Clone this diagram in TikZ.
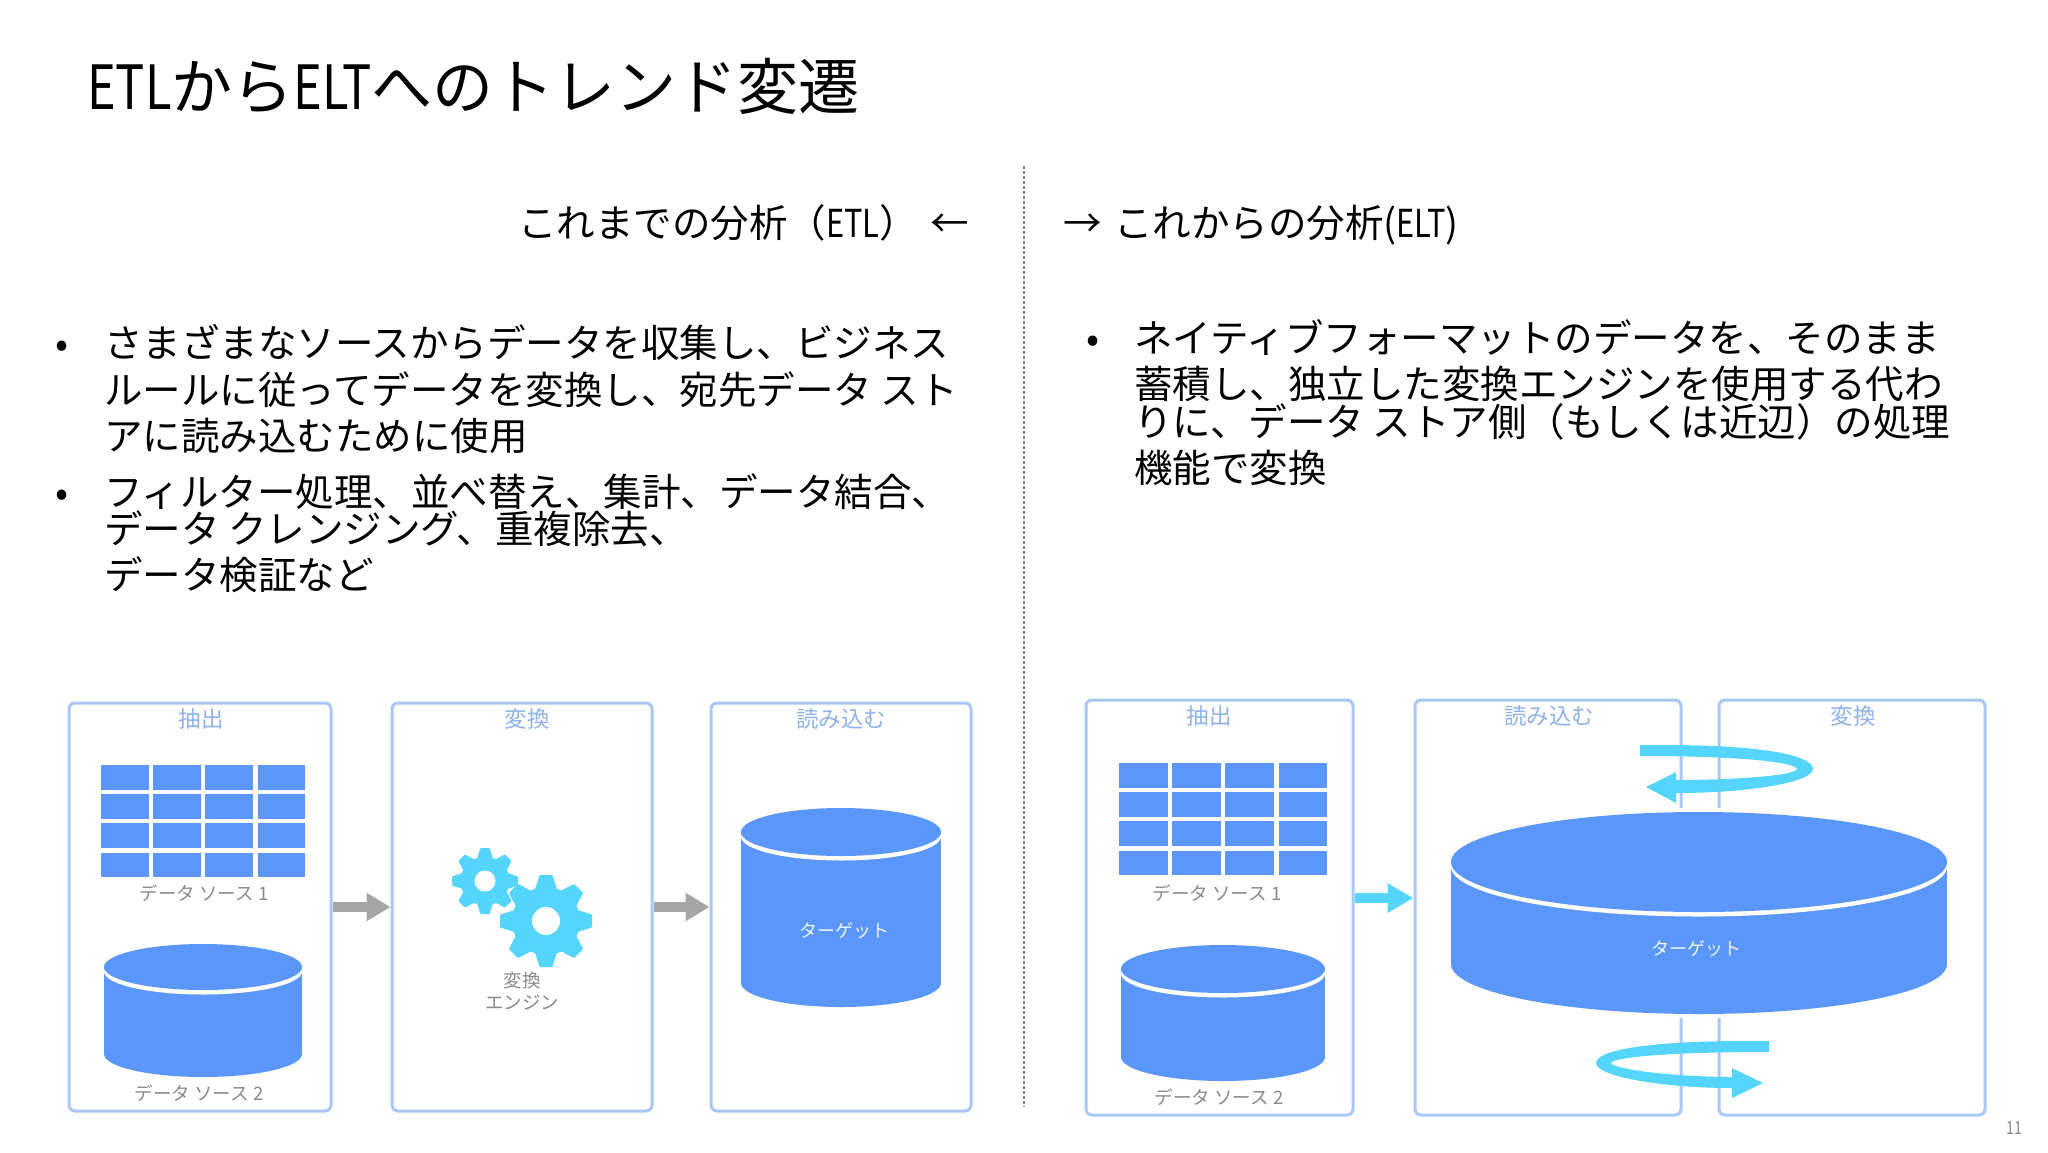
\documentclass[tikz,border=0pt]{standalone}
\usepackage{fontspec}
\usepackage{graphicx}
\setmainfont{Noto Sans CJK JP}
\usetikzlibrary{arrows.meta,calc}
\definecolor{dbblue}{HTML}{5B97FB}
\definecolor{panelline}{HTML}{A8C7F7}
\definecolor{headtext}{HTML}{8FB2EC}
\definecolor{cyanflow}{HTML}{55D5FC}
\definecolor{grayflow}{HTML}{A6A6A6}
\definecolor{labelgray}{HTML}{8A8A8A}
\newcommand\nl[1]{\scalebox{.8}[1]{#1}}
\newcommand\cylshape[5]{% cx, top centre y, bottom centre y, rx, ry
  \fill[dbblue] ({#1-#4},#2) rectangle ({#1+#4},#3);
  \fill[dbblue] (#1,#3) ellipse [x radius=#4 pt,y radius=#5 pt];
  \fill[white] (#1,{#2+4.5}) ellipse [x radius=#4 pt,y radius=#5 pt];
  \fill[dbblue] (#1,#2) ellipse [x radius=#4 pt,y radius=#5 pt];
}
\newcommand\gridshape[4]{% x, y, column step, cell width
  \begin{scope}[shift={(#1,#2)}]
    \foreach \gx in {0,1,2,3}
      \foreach \gy in {0,1,2,3}
        \fill[dbblue] ({\gx*#3},{\gy*29.2}) rectangle ({\gx*#3+#4},{\gy*29.2+24.6});
  \end{scope}
}
\newcommand\gearshape[4]{% cx, cy, R, hole
  \begin{scope}[shift={(#1,#2)}]
    \fill[white] (0,0) circle ({#3*0.84 pt});
    \foreach \ga in {0,45,...,315}
      \fill[cyanflow,rotate=\ga,rounded corners=0.8pt]
        ({-0.24*#3},{-0.68*#3}) -- ({-0.14*#3},{-#3}) -- ({0.14*#3},{-#3}) -- ({0.24*#3},{-0.68*#3}) -- cycle;
    \fill[cyanflow] (0,0) circle ({#3*0.74 pt});
    \fill[white] (0,0) circle (#4 pt);
  \end{scope}
}
\tikzset{
  panelbox/.style={draw=panelline,line width=3pt,rounded corners=6pt,fill=white,inner sep=0pt},
  bodytext/.style={anchor=base west,inner sep=0pt,font=\fontsize{38.5}{38}\selectfont,text=black},
  headlabel/.style={inner sep=0pt,font=\fontsize{22.5}{23}\selectfont,text=headtext},
  graylabel/.style={inner sep=0pt,font=\fontsize{18.5}{19}\selectfont,text=labelgray},
  whitelabel/.style={inner sep=0pt,font=\fontsize{18}{18}\selectfont,text=white!90!dbblue},
  grayarrow/.style={draw=grayflow,line width=10pt,-{Triangle[length=24pt,width=27pt]}},
  cyanarrow/.style={draw=cyanflow,line width=10pt,-{Triangle[length=26pt,width=28pt]}},
}
\begin{document}
\begin{tikzpicture}[x=1pt,y=-1pt]
\useasboundingbox[fill=white] (0,0) rectangle (2048,1152);

% title and headings
\node[bodytext,font=\fontsize{61}{61}\selectfont] (title) at (87,109) {\nl{ETL}から\nl{ELT}へのトレンド変遷};
\node[bodytext] (headl) at (518,237) {これまでの分析（\nl{ETL}）};
\node[bodytext] (arrl) at (930,237) {←};
\node[bodytext] (arrr) at (1063,237) {→};
\node[bodytext] (headr) at (1114,237) {これからの分析(\nl{ELT})};

% divider
\coordinate (divtop) at (1024,166);
\coordinate (divbot) at (1024,1107);
\draw[gray,line width=1.2pt,dash pattern=on 3pt off 2pt] (divtop) -- (divbot);

% left text
\node[bodytext] (bl1) at (55,357) {•};
\node[bodytext] (l1) at (104,357) {さまざまなソースからデータを収集し、ビジネス};
\node[bodytext] (l2) at (104,404) {ルールに従ってデータを変換し、宛先データ スト};
\node[bodytext] (l3) at (104,450) {アに読み込むために使用};
\node[bodytext] (bl2) at (55,506) {•};
\node[bodytext] (l4) at (104,506) {フィルター処理、並べ替え、集計、データ結合、};
\node[bodytext] (l5) at (104,543) {データ クレンジング、重複除去、};
\node[bodytext] (l6) at (104,589) {データ検証など};

% right text
\node[bodytext] (br1) at (1086,352) {•};
\node[bodytext] (r1) at (1134,352) {ネイティブフォーマットのデータを、そのまま};
\node[bodytext] (r2) at (1134,398) {蓄積し、独立した変換エンジンを使用する代わ};
\node[bodytext] (r3) at (1134,436) {りに、データ ストア側（もしくは近辺）の処理};
\node[bodytext] (r4) at (1134,482) {機能で変換};

% left diagram
\node[panelbox,minimum width=262pt,minimum height=408pt] (lb1) at (200,907) {};
\node[panelbox,minimum width=260pt,minimum height=408pt] (lb2) at (522,907) {};
\node[panelbox,minimum width=260pt,minimum height=408pt] (lb3) at (841,907) {};
\node[headlabel] (lh1) at (201,719) {抽出};
\node[headlabel] (lh2) at (527,719) {変換};
\node[headlabel] (lh3) at (841,719) {読み込む};
\draw[grayarrow] (lb1.east) -- (lb2.west);
\draw[grayarrow] (lb2.east) -- (lb3.west);
\gridshape{101}{765}{52.2}{47.6}
\node[graylabel] (ls1) at (204,893) {データ ソース 1};
\cylshape{203}{967}{1054}{99}{23}
\node[graylabel] (ls2) at (199,1093) {データ ソース 2};
\gearshape{485}{881}{33}{10.5}
\gearshape{546}{921}{46}{14}
\node[graylabel] (le1) at (522,980) {変換};
\node[graylabel] (le2) at (522,1002) {エンジン};
\cylshape{841}{832}{983}{100}{24}
\node[whitelabel] (lt) at (844,931) {ターゲット};

% right diagram
\node[panelbox,minimum width=267pt,minimum height=415pt] (rb1) at (1219.5,907.5) {};
\node[panelbox,minimum width=266pt,minimum height=415pt] (rb2) at (1548,907.5) {};
\node[panelbox,minimum width=266pt,minimum height=415pt] (rb3) at (1852,907.5) {};
\fill[white] (1672,808) rectangle (1728,1018);
\node[headlabel] (rh1) at (1209,716) {抽出};
\node[headlabel] (rh2) at (1549,716) {読み込む};
\node[headlabel] (rh3) at (1853,716) {変換};
\draw[cyanarrow] ([yshift=9.5pt]rb1.east) -- ([yshift=9.5pt]rb2.west);
\gridshape{1119}{763}{53.2}{48.6}
\node[graylabel] (rs1) at (1217,893) {データ ソース 1};
\cylshape{1223}{969}{1057}{102}{24}
\node[graylabel] (rs2) at (1219,1097) {データ ソース 2};
\cylshape{1699}{862}{964}{248}{50}
\node[whitelabel] (rt) at (1696,949) {ターゲット};

% rotating arrows
\fill[cyanflow] (1640,745) -- (1665,745) .. controls (1760,745) and (1813,755) .. (1813,769)
  .. controls (1813,782) and (1750,793) .. (1676,793) -- (1676,803) -- (1646,787) -- (1676,772) -- (1676,780)
  .. controls (1730,780) and (1795,776) .. (1797,769)
  .. controls (1795,762) and (1740,756) .. (1640,756) -- cycle;
\fill[cyanflow] (1769,1041) -- (1745,1041) .. controls (1650,1041) and (1596,1050) .. (1596,1063)
  .. controls (1596,1076) and (1660,1088) .. (1732,1088) -- (1732,1098) -- (1763,1083) -- (1732,1068) -- (1732,1077)
  .. controls (1680,1077) and (1614,1070) .. (1611,1063)
  .. controls (1614,1057) and (1670,1052) .. (1769,1052) -- cycle;

% page number
\node[inner sep=0pt,font=\fontsize{18}{18}\selectfont,text=labelgray] (pg) at (2014,1128) {\nl{11}};
\end{tikzpicture}
\end{document}
